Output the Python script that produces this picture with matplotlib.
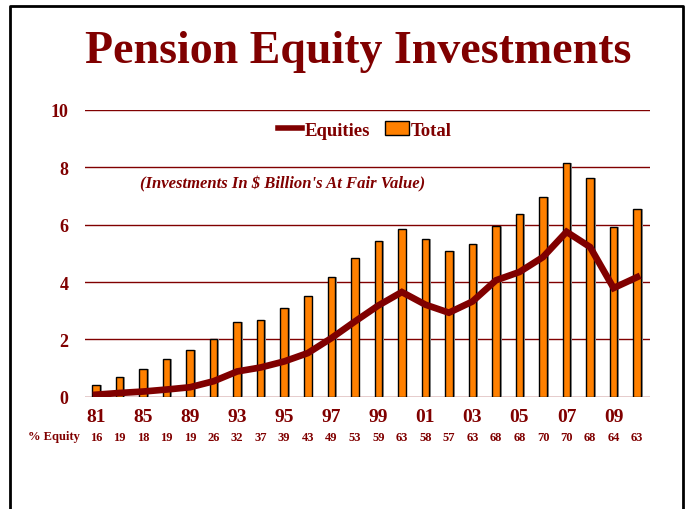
import numpy as np
import matplotlib.pyplot as plt
from matplotlib.lines import Line2D
from matplotlib.patches import Patch

plt.rcParams['font.family'] = 'Liberation Serif'
plt.rcParams['font.weight'] = 'bold'

# data ($ billion)
years = ['81', '83', '85', '87', '89', '91', '93', '94', '95', '96', '97', '98',
         '99', '00', '01', '02', '03', '04', '05', '06', '07', '08', '09', '10']
total = [0.42, 0.67, 0.96, 1.33, 1.64, 2.02, 2.61, 2.67, 3.10, 3.50, 4.17, 4.85,
         5.42, 5.84, 5.51, 5.08, 5.31, 5.97, 6.36, 6.97, 8.15, 7.64, 5.93, 6.56]
equities = [0.07, 0.13, 0.18, 0.25, 0.33, 0.54, 0.88, 1.02, 1.23, 1.52, 2.04, 2.62,
            3.18, 3.65, 3.21, 2.93, 3.32, 4.06, 4.35, 4.87, 5.75, 5.22, 3.79, 4.17]
pct_equity = [16, 19, 18, 19, 19, 26, 32, 37, 39, 43, 49, 53,
              59, 63, 58, 57, 63, 68, 68, 70, 70, 68, 64, 63]
shown_labels = ['81', '', '85', '', '89', '', '93', '', '95', '', '97', '',
                '99', '', '01', '', '03', '', '05', '', '07', '', '09', '']

dark = '#800000'
orange = '#FF8000'

fig = plt.figure(figsize=(6.85, 5.10), dpi=100)
ax = fig.add_axes([0.124, 0.2202, 0.825, 0.5622])

x = np.arange(len(years))
ax.bar(x + 0.08, total, width=0.32, color='#999999', zorder=2)
ax.bar(x, total, width=0.32, color=orange, edgecolor='black', linewidth=1, zorder=3)
ax.plot(x, equities, color=dark, linewidth=4.8, zorder=4, solid_joinstyle='miter')

ax.set_xlim(-0.47, 23.55)
ax.set_ylim(0, 10)
ax.set_yticks([0, 2, 4, 6, 8, 10])
ax.grid(axis='y', color=dark, linewidth=1, zorder=0)
ax.set_axisbelow(True)
for s in ax.spines.values():
    s.set_visible(False)
ax.tick_params(length=0)
ax.tick_params(axis='y', labelsize=13, labelcolor=dark, pad=12)
ax.set_xticks(x)
ax.set_xticklabels(shown_labels, fontsize=14, color=dark)
ax.tick_params(axis='x', pad=8)

# % equity row
for xi, p in zip(x, pct_equity):
    ax.annotate(str(p), (xi, 0), xycoords=('data', 'axes fraction'),
                xytext=(0, -40), textcoords='offset pixels',
                ha='center', va='center', fontsize=9, color=dark)
fig.text(80 / 685, 1 - 437 / 510, '% Equity', ha='right', va='center',
         fontsize=9, color=dark)

fig.text(358 / 685, 1 - 52 / 510, 'Pension Equity Investments', ha='center',
         va='center', fontsize=33, color=dark)
ax.text(283 / 685, 1 - 184 / 510, "(Investments In $ Billion's At Fair Value)",
        transform=fig.transFigure, ha='center', va='center', fontsize=12,
        style='italic', color=dark)

handles = [Line2D([], [], color=dark, linewidth=4),
           Patch(facecolor=orange, edgecolor='black')]
fig.legend(handles, ['Equities', 'Total'], loc='center',
           bbox_to_anchor=(365 / 685, 1 - 131 / 510), ncol=2, frameon=False,
           handlelength=1.3, handletextpad=0.1, columnspacing=0.8,
           prop={'size': 13.5, 'weight': 'bold'}, labelcolor=dark)

# outer frame
fig.add_artist(Line2D([10 / 685, 10 / 685, 683 / 685, 683 / 685],
                      [0, 1 - 7 / 510, 1 - 7 / 510, 0],
                      transform=fig.transFigure, color='black', linewidth=2))

fig.savefig('out.png', dpi=100)
